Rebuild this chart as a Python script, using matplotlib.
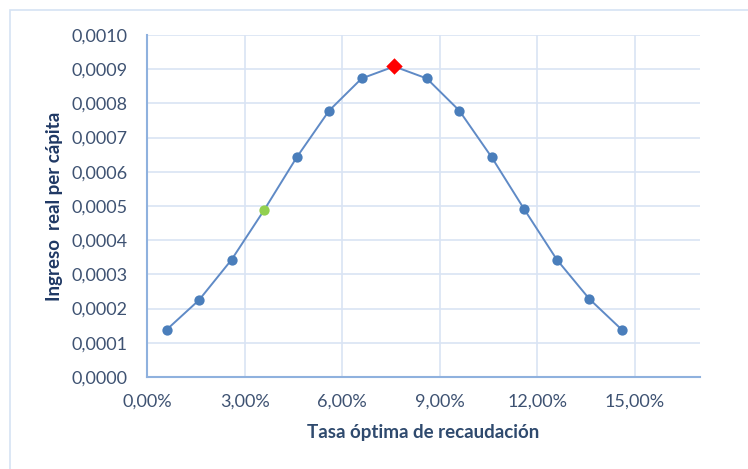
import matplotlib
matplotlib.use("Agg")
import matplotlib.pyplot as plt
from matplotlib.ticker import FuncFormatter, MultipleLocator
from matplotlib.patches import Rectangle

# Data
tasa = [0.006, 0.016, 0.026, 0.036, 0.046, 0.056, 0.066, 0.076,
        0.086, 0.096, 0.106, 0.116, 0.126, 0.136, 0.146]
ingreso = [0.000138, 0.000225, 0.000343, 0.000488, 0.000642, 0.000779, 0.000873, 0.000908,
           0.000873, 0.000779, 0.000642, 0.000490, 0.000343, 0.000228, 0.000138]
idx_green = 3
idx_red = 7
x_label = "Tasa óptima de recaudación"
y_label = "Ingreso  real per cápita"

plt.rcParams['font.family'] = ['Lato', 'DejaVu Sans']

fig = plt.figure(figsize=(7.48, 4.69), dpi=100)
fig.patches.append(Rectangle((10/748, -0.2), 1.2, 1.2 - 10/469, transform=fig.transFigure,
                             fill=False, edgecolor='#D6E3F3', linewidth=1.2))
ax = fig.add_axes([147/748, (469-377)/469, (700-147)/748, (377-35)/469])

line_col = '#5F8AC6'
mk_col = '#4A7EBB'
ax.plot(tasa, ingreso, color=line_col, linewidth=1.4, zorder=3)
blue_x = [x for i, x in enumerate(tasa) if i not in (idx_green, idx_red)]
blue_y = [y for i, y in enumerate(ingreso) if i not in (idx_green, idx_red)]
ax.scatter(blue_x, blue_y, s=55, color=mk_col, zorder=4, linewidths=0)
ax.scatter([tasa[idx_green]], [ingreso[idx_green]], s=55, color='#92D050', zorder=4, linewidths=0)
ax.scatter([tasa[idx_red]], [ingreso[idx_red]], s=70, marker='D', color='#FF0000', zorder=4, linewidths=0)

ax.set_xlim(0, 0.17)
ax.set_ylim(0, 0.0010)
ax.xaxis.set_major_locator(MultipleLocator(0.03))
ax.yaxis.set_major_locator(MultipleLocator(0.0001))
ax.xaxis.set_major_formatter(FuncFormatter(lambda v, p: f"{v*100:.2f}%".replace('.', ',')))
ax.yaxis.set_major_formatter(FuncFormatter(lambda v, p: f"{v:.4f}".replace('.', ',')))

ax.grid(True, color='#D9E4F4', linewidth=1.2)
ax.set_axisbelow(True)
for s in ['top', 'right']:
    ax.spines[s].set_visible(False)
for s in ['left', 'bottom']:
    ax.spines[s].set_color('#8FB1DE')
    ax.spines[s].set_linewidth(1.5)
ax.tick_params(length=0, labelsize=13, colors='#3E5272')
ax.tick_params(axis='y', pad=14)
ax.tick_params(axis='x', pad=12)

ax.set_xlabel(x_label, fontsize=13.5, color='#2F4A6E', fontweight='bold', labelpad=10)
ax.set_ylabel(y_label, fontsize=13.5, color='#1F3864', fontweight='bold', labelpad=6)

fig.savefig("out.png", dpi=100, facecolor='white')
